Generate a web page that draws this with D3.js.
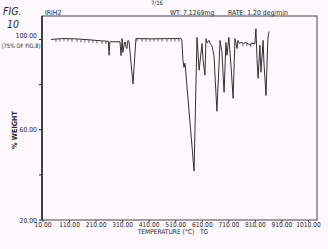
<!DOCTYPE html>
<html>
<head>
<meta charset="utf-8">
<script src="https://cdn.jsdelivr.net/npm/d3@7"></script>
<style>
  html, body { margin: 0; padding: 0; background: #fcf8fc; }
  svg { display: block; }
  text { font-family: "DejaVu Sans Condensed", "Liberation Sans Narrow", sans-serif; fill: #2a2a2a; }
</style>
</head>
<body>
<svg id="chart" width="328" height="249"></svg>
<script>
// ---- data ----
const temps = [40, 80, 130, 180, 230, 256, 259, 262, 300, 304, 308, 311, 317, 320, 323, 326, 330, 334, 349, 360,
  420, 480, 530, 533, 537, 541, 545, 579, 590, 598, 609, 613, 620, 624, 628, 635, 640, 646, 654, 665,
  677, 684, 692, 699, 703, 710, 718, 726, 733, 741, 744, 750, 756, 765, 775, 785, 790, 795, 808, 812,
  816, 820, 827, 831, 839, 842, 850, 857, 861];
const weights = [100.0, 100.4, 100.3, 99.9, 99.4, 99.2, 93.0, 99.0, 99.0, 92.9, 100.4, 94.3, 98.7, 98.9, 96.5, 96.0, 99.6, 99.2, 80.3, 100.4,
  100.3, 100.4, 100.4, 99.8, 91.0, 87.6, 89.5, 41.7, 100.9, 86.4, 98.2, 90.8, 84.2, 100.4, 98.5, 99.6, 98.0, 97.4, 93.0, 68.2,
  99.6, 94.3, 76.6, 98.7, 93.0, 100.9, 88.6, 73.9, 100.4, 96.0, 99.6, 98.2, 98.7, 98.3, 98.6, 98.0, 97.4, 98.5, 98.0, 104.8,
  91.6, 82.8, 97.4, 85.5, 99.6, 89.9, 75.2, 100.4, 103.5];
// small recorder "teeth" hanging under the baseline
const teethTemps = [59, 74, 89, 104, 119, 138, 153, 168, 183, 198, 213, 232, 247,
  364, 383, 398, 413, 428, 443, 458, 477, 492, 507, 522, 763, 778, 793];
const xTickValues = [10, 110, 210, 310, 410, 510, 610, 710, 810, 910, 1010];
const yTickValues = [20, 40, 60, 80, 100];
const yLabelValues = [20, 60, 100];

// ---- layout ----
const svg = d3.select("#chart");
const box = { left: 42, top: 16, right: 317, bottom: 220 };
const x = d3.scaleLinear().domain([10, 1010]).range([43, 308.5]);
const y = d3.scaleLinear().domain([20, 100]).range([220, 39.5]);
const ink = "#2a2a2a";

// frame
svg.append("rect")
  .attr("x", box.left).attr("y", box.top)
  .attr("width", box.right - box.left).attr("height", box.bottom - box.top)
  .attr("fill", "none").attr("stroke", "#444").attr("stroke-width", 1);
svg.append("line")
  .attr("x1", box.left).attr("x2", box.left).attr("y1", box.top).attr("y2", box.bottom)
  .attr("stroke", ink).attr("stroke-width", 1.6);

// y ticks
svg.selectAll(".ytick").data(yTickValues).join("line")
  .attr("x1", box.left - 3).attr("x2", box.left)
  .attr("y1", d => y(d)).attr("y2", d => y(d))
  .attr("stroke", ink).attr("stroke-width", 1);
svg.selectAll(".ylab").data(yLabelValues).join("text")
  .attr("x", 37).attr("y", d => y(d) + (d === 100 ? -1.5 : 2.5))
  .attr("text-anchor", "end").attr("font-size", 6.8)
  .text(d => d3.format(".2f")(d));
svg.append("text").attr("x", 1.5).attr("y", 47.5)
  .attr("font-size", 6)
  .attr("textLength", 39).attr("lengthAdjust", "spacingAndGlyphs")
  .text("(75% OF FIG.8)");
svg.append("text")
  .attr("transform", "translate(17,130) rotate(-90)")
  .attr("text-anchor", "middle").attr("font-size", 7.2).attr("font-weight", "bold")
  .text("% WEIGHT");

// x ticks
svg.selectAll(".xtick").data(xTickValues).join("line")
  .attr("x1", d => x(d)).attr("x2", d => x(d))
  .attr("y1", box.bottom).attr("y2", box.bottom + 2)
  .attr("stroke", ink).attr("stroke-width", 0.8);
svg.selectAll(".xlab").data(xTickValues).join("text")
  .attr("x", d => x(d)).attr("y", 226.5)
  .attr("text-anchor", "middle").attr("font-size", 6.6)
  .text(d => d3.format(".2f")(d));
svg.append("text").attr("x", 166).attr("y", 233.5)
  .attr("text-anchor", "middle").attr("font-size", 6.6)
  .text("TEMPERATURE (°C)");
svg.append("text").attr("x", 204).attr("y", 233.5)
  .attr("text-anchor", "middle").attr("font-size", 6.6)
  .text("TG");

// header texts
svg.append("text").attr("x", 157).attr("y", 5).attr("text-anchor", "middle").attr("font-size", 6).text("7/16");
svg.append("text").attr("x", 3).attr("y", 15).attr("font-size", 10.5).attr("font-style", "italic").text("FIG.");
svg.append("text").attr("x", 7).attr("y", 27.5).attr("font-size", 10.5).attr("font-style", "italic").text("10");
svg.append("text").attr("x", 45).attr("y", 15).attr("font-size", 6.8).text("IRIH2");
svg.append("text").attr("x", 170).attr("y", 15).attr("font-size", 6.8).text("WT: 7.1269mg");
svg.append("text").attr("x", 228).attr("y", 15).attr("font-size", 6.8).text("RATE: 1.20 deg/min");

// curve
const pts = temps.map((t, i) => [t, weights[i]]);
const line = d3.line().x(d => x(d[0])).y(d => y(d[1]));
svg.append("path").datum(pts)
  .attr("d", line)
  .attr("fill", "none").attr("stroke", "#333").attr("stroke-width", 1)
  .attr("stroke-linejoin", "round");

// teeth: short strokes hanging from the curve
const bis = d3.bisector(d => d[0]).left;
function interp(t) {
  const i = Math.max(1, bis(pts, t));
  const a = pts[i - 1], b = pts[i];
  return a[1] + (b[1] - a[1]) * (t - a[0]) / (b[0] - a[0]);
}
svg.selectAll(".tooth").data(teethTemps).join("line")
  .attr("x1", d => x(d)).attr("x2", d => x(d))
  .attr("y1", d => y(interp(d))).attr("y2", d => y(interp(d)) + 3)
  .attr("stroke", "#444").attr("stroke-width", 0.8);
</script>
</body>
</html>
